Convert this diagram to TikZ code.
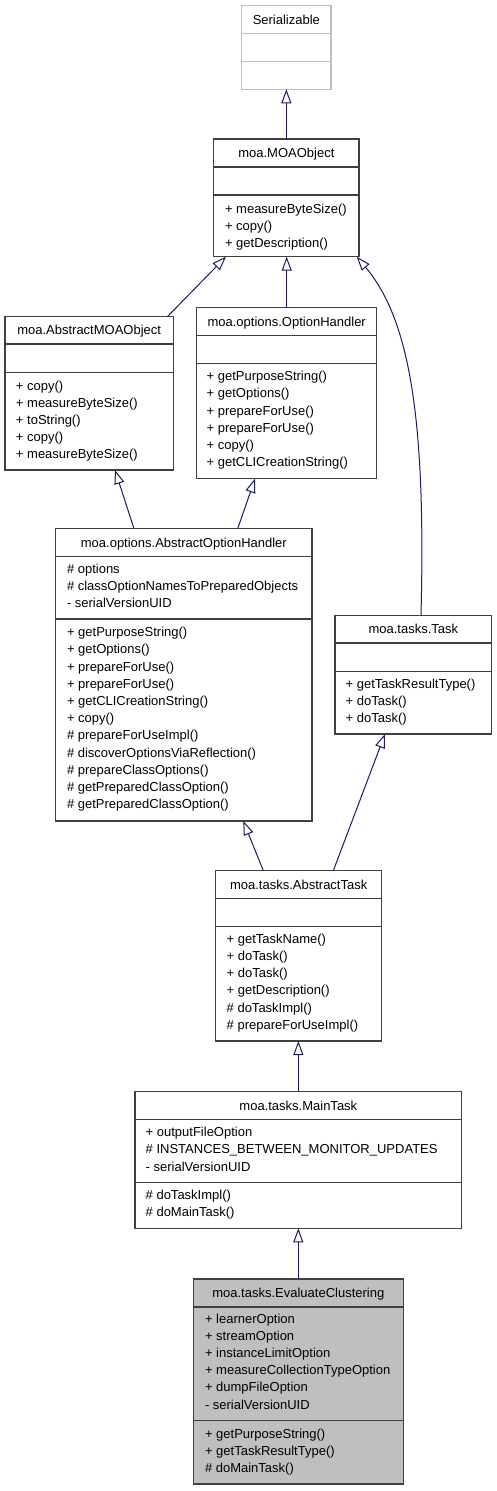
\documentclass[tikz,border=0pt]{standalone}
\usepackage{fontspec}
\setmainfont{Liberation Sans}
\usetikzlibrary{arrows.meta}
\definecolor{navy}{HTML}{191970}
\definecolor{boxgray}{HTML}{BFBFBF}
\definecolor{edgegray}{HTML}{404040}
\tikzset{
  cls/.style={draw=edgegray, line width=1.2pt, inner sep=0pt, outer sep=0pt, rectangle},
  cls line/.style={draw=edgegray, line width=1.2pt},
  serbox/.style={draw=boxgray, line width=1.2pt, inner sep=0pt, outer sep=0pt, rectangle},
  serbox line/.style={draw=boxgray, line width=1.2pt},
  ecbox/.style={cls, fill=boxgray},
  ecbox line/.style={cls line},
  txt/.style={inner sep=0pt, outer sep=0pt, font=\fontsize{13}{15.6}\selectfont},
  inh/.style={draw=navy, line width=1pt, -{Triangle[open, length=14pt, width=10pt, line width=1pt]}}
}
% #1 style, #2 name, #3 x1, #4 y1, #5 x2, #6 y2, #7 divider 1, #8 divider 2
\newcommand\umlbox[8]{%
  \node[#1, anchor=north west, minimum width={#5-#3}, minimum height={#6-#4}] (#2) at (#3,#4) {};
  \draw[#1 line] (#3,#7) -- (#5,#7) (#3,#8) -- (#5,#8);
}
% #1 name, #2 center x, #3 row center y, #4 text
\newcommand\umltitle[4]{%
  \node[txt, anchor=base] (#1-title) at (#2,{#3+4.5}) {#4};
}
% #1 name prefix, #2 left x, #3 first line center y, #4 list of lines
\newcommand\umllines[4]{%
  \foreach [count=\i] \t in {#4} {\node[txt, anchor=base west] (#1-\i) at (#2,{#3+17.2*(\i-1)+4}) {\t};}
}
\begin{document}
\begin{tikzpicture}[x=1pt, y=-1pt]
\useasboundingbox (0,0) rectangle (496,1491);

% Serializable
\umlbox{serbox}{ser}{241.7}{5.7}{331}{89.3}{33.3}{61.7}
\umltitle{ser}{286.35}{19.5}{Serializable}

% moa.MOAObject
\umlbox{cls}{moa}{213.7}{139}{359}{256.7}{167}{195}
\umltitle{moa}{286.35}{153}{moa.MOAObject}
\umllines{moam}{225}{209.2}{+ measureByteSize(), + copy(), + getDescription()}

% moa.AbstractMOAObject
\umlbox{cls}{amo}{5}{316.7}{173.3}{470}{344}{372.3}
\umltitle{amo}{89.15}{330.3}{moa.AbstractMOAObject}
\umllines{amom}{16}{386}{+ copy(), + measureByteSize(), + toString(), + copy(), + measureByteSize()}

% moa.options.OptionHandler
\umlbox{cls}{oh}{196.7}{307.7}{376.7}{478.7}{335.7}{363.7}
\umltitle{oh}{286.7}{321.7}{moa.options.OptionHandler}
\umllines{ohm}{206.7}{376.7}{+ getPurposeString(), + getOptions(), + prepareForUse(), + prepareForUse(), + copy(), + getCLICreationString()}

% moa.options.AbstractOptionHandler
\umlbox{cls}{aoh}{55.7}{528.7}{312}{821}{556.7}{619}
\umltitle{aoh}{183.85}{542.7}{moa.options.AbstractOptionHandler}
\umllines{aoha}{67}{569.3}{\# options, \# classOptionNamesToPreparedObjects, - serialVersionUID}
\umllines{aohm}{67}{632.7}{+ getPurposeString(), + getOptions(), + prepareForUse(), + prepareForUse(), + getCLICreationString(), + copy(), \# prepareForUseImpl(), \# discoverOptionsViaReflection(), \# prepareClassOptions(), \# getPreparedClassOption(), \# getPreparedClassOption()}

% moa.tasks.Task
\umlbox{cls}{task}{335}{615.3}{491.7}{734}{643}{671.7}
\umltitle{task}{413.35}{629.2}{moa.tasks.Task}
\umllines{taskm}{345.7}{684.3}{+ getTaskResultType(), + doTask(), + doTask()}

% moa.tasks.AbstractTask
\umlbox{cls}{at}{215.7}{870.7}{381.7}{1041}{898.7}{926.7}
\umltitle{at}{298.7}{884.7}{moa.tasks.AbstractTask}
\umllines{atm}{226.7}{939.3}{+ getTaskName(), + doTask(), + doTask(), + getDescription(), \# doTaskImpl(), \# prepareForUseImpl()}

% moa.tasks.MainTask
\umlbox{cls}{mt}{135}{1091.7}{461.7}{1228.3}{1119.3}{1182.3}
\umltitle{mt}{298.35}{1105.5}{moa.tasks.MainTask}
\umllines{mta}{145.7}{1132.7}{+ outputFileOption, \# INSTANCES\_BETWEEN\_MONITOR\_UPDATES, - serialVersionUID}
\umllines{mtm}{145.7}{1195.7}{\# doTaskImpl(), \# doMainTask()}

% moa.tasks.EvaluateClustering
\umlbox{ecbox}{ec}{193.3}{1279}{403.3}{1484}{1307}{1420.7}
\umltitle{ec}{298.3}{1293}{moa.tasks.EvaluateClustering}
\umllines{eca}{205}{1319}{+ learnerOption, + streamOption, + instanceLimitOption, + measureCollectionTypeOption, + dumpFileOption, - serialVersionUID}
\umllines{ecm}{205}{1434.3}{+ getPurposeString(), + getTaskResultType(), \# doMainTask()}

% inheritance connectors
\draw[inh] (moa.north) -- (ser.south);
\draw[inh] ([xshift=-6pt]amo.north east) -- ([xshift=-60.35pt]moa.south);
\draw[inh] (oh.north) -- (oh.north |- moa.south);
\draw[inh] ([xshift=7.65pt]task.north) .. controls (426,420) and (410,320) .. ([xshift=70.35pt]moa.south);
\draw[inh] ([xshift=-49.85pt]aoh.north) -- ([xshift=25.85pt]amo.south);
\draw[inh] ([xshift=53.85pt]aoh.north) -- ([xshift=-31.7pt]oh.south);
\draw[inh] ([xshift=-35.4pt]at.north) -- ([xshift=59.45pt]aoh.south);
\draw[inh] ([xshift=34.6pt]at.north) -- ([xshift=-28.35pt]task.south);
\draw[inh] (mt.north) -- (mt.north |- at.south);
\draw[inh] (ec.north) -- (ec.north |- mt.south);
\end{tikzpicture}
\end{document}
